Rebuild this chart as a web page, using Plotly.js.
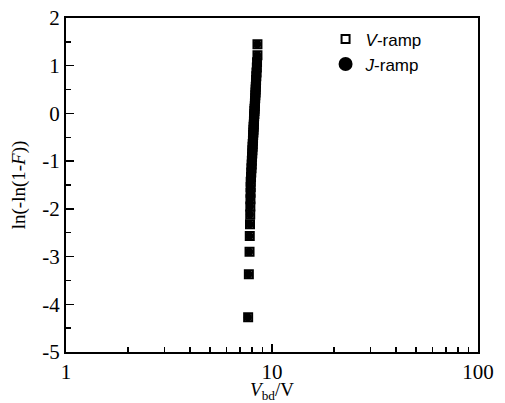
<!DOCTYPE html>
<html>
<head>
<meta charset="utf-8">
<script src="https://cdn.plot.ly/plotly-3.0.1.min.js"></script>
<style>html,body{margin:0;padding:0;background:#fff;}#chart{width:505px;height:403px;}</style>
</head>
<body>
<div id="chart"></div>
<script>
// Weibull plot values
var yWeibull = [-4.27,-3.37,-2.90,-2.57,-2.32,-2.12,-1.95,-1.80,-1.66,-1.54,
  -1.43,-1.33,-1.24,-1.15,-1.07,-0.99,-0.91,-0.84,-0.77,-0.70,
  -0.64,-0.57,-0.51,-0.45,-0.40,-0.34,-0.28,-0.23,-0.17,-0.12,
  -0.06,-0.01,0.05,0.10,0.15,0.21,0.26,0.32,0.38,0.44,
  0.50,0.56,0.63,0.70,0.78,0.86,0.96,1.07,1.22,1.45];
var vRampVbd = [7.66,7.72,7.78,7.80,7.82,7.84,7.85,7.86,7.87,7.88,
  7.88,7.91,7.93,7.95,7.97,7.98,8.00,8.02,8.03,8.05,
  8.06,8.08,8.09,8.10,8.12,8.13,8.14,8.16,8.17,8.18,
  8.19,8.21,8.22,8.23,8.25,8.26,8.27,8.29,8.30,8.32,
  8.33,8.34,8.36,8.37,8.39,8.41,8.44,8.46,8.50,8.50];
var jRampVbd = [7.63,7.69,7.75,7.77,7.79,7.81,7.82,7.83,7.84,7.85,
  7.86,7.89,7.91,7.93,7.95,7.96,7.98,8.00,8.01,8.03,
  8.04,8.06,8.07,8.08,8.10,8.11,8.12,8.14,8.15,8.16,
  8.17,8.19,8.20,8.21,8.23,8.24,8.25,8.27,8.28,8.30,
  8.31,8.32,8.34,8.35,8.37,8.39,8.42,8.44,8.48,8.48];
var xTickVals = [1, 10, 100];
var xTickText = ['1', '10', '100'];
var xMinorVals = [2,3,4,5,6,7,8,9,20,30,40,50,60,70,80,90];
var yTickVals = [-5,-4,-3,-2,-1,0,1,2];
var yTickText = ['-5','-4','-3','-2','-1','0','1','2'];
var seriesNames = ['<i>V</i>-ramp', '<i>J</i>-ramp'];

var serif = "'Liberation Serif', 'Times New Roman', Times, serif";
var sans = "'Liberation Sans', Arial, sans-serif";
var traces = [
  {x: jRampVbd, y: yWeibull, mode: 'markers', type: 'scatter', name: seriesNames[1],
   marker: {symbol: 'circle', size: 8, color: '#000'}, showlegend: false},
  {x: vRampVbd, y: yWeibull, mode: 'markers', type: 'scatter', name: seriesNames[0],
   marker: {symbol: 'square-open', size: 8, color: '#000', line: {width: 2, color: '#000'}}},
  {x: [0.5], y: [-10], mode: 'markers', type: 'scatter', name: seriesNames[1],
   marker: {symbol: 'circle', size: 14, color: '#000'}}
];
var layout = {
  width: 505, height: 403,
  margin: {l: 66, r: 27, t: 18, b: 51},
  paper_bgcolor: '#fff', plot_bgcolor: '#fff',
  font: {family: serif, color: '#000', size: 18},
  showlegend: true,
  legend: {x: 0.63, y: 0.99, xanchor: 'left', yanchor: 'top', bgcolor: 'rgba(0,0,0,0)',
    font: {family: sans, size: 17, color: '#000'},
    itemsizing: 'trace', tracegroupgap: 0},
  xaxis: {type: 'log', range: [0, 2], tickmode: 'array', tickvals: xTickVals, ticktext: xTickText,
    ticks: 'inside', ticklen: 8, tickwidth: 1.5, tickcolor: '#000',
    minor: {tickmode: 'array', tickvals: xMinorVals, ticks: 'inside', ticklen: 5, tickwidth: 1.5, tickcolor: '#000', showgrid: false},
    showline: true, linewidth: 2, linecolor: '#000', mirror: true,
    showgrid: false, zeroline: false,
    tickfont: {family: serif, size: 21},
    title: {text: '<i>V</i><sub>bd</sub>/V', font: {family: serif, size: 19}, standoff: 9}},
  yaxis: {range: [-5, 2], tickmode: 'array', tickvals: yTickVals, ticktext: yTickText,
    ticks: 'inside', ticklen: 8, tickwidth: 1.5, tickcolor: '#000',
    minor: {dtick: 0.5, ticks: 'inside', ticklen: 5, tickwidth: 1.5, tickcolor: '#000', showgrid: false},
    showline: true, linewidth: 2, linecolor: '#000', mirror: true,
    showgrid: false, zeroline: false,
    tickfont: {family: serif, size: 21},
    title: {text: 'ln(-ln(1-<i>F</i>))', font: {family: serif, size: 19}, standoff: 12}}
};
Plotly.newPlot('chart', traces, layout, {displayModeBar: false, staticPlot: true});
</script>
</body>
</html>
